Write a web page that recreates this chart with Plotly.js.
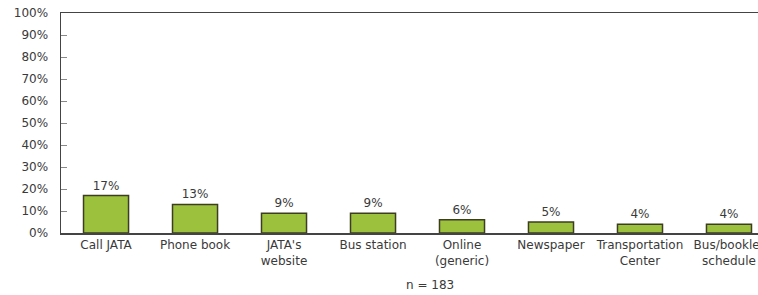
<!DOCTYPE html>
<html>
<head>
<meta charset="utf-8">
<script src="https://cdn.plot.ly/plotly-3.0.1.min.js"></script>
<style>html,body{margin:0;padding:0;background:#fff;}#chart{width:758px;height:295px;}</style>
</head>
<body>
<div id="chart"></div>
<script>
const categories = ["Call JATA", "Phone book", "JATA's<br>website", "Bus station", "Online<br>(generic)", "Newspaper", "Transportation<br>Center", "Bus/booklet<br>schedule"];
const values = [17, 13, 9, 9, 6, 5, 4, 4];
const yTickVals = [0, 10, 20, 30, 40, 50, 60, 70, 80, 90, 100];
const sampleNote = "n = 183";

const font = {family: "DejaVu Sans, Verdana, sans-serif", size: 12, color: "#3a3a3a"};
const idx = categories.map((c, i) => i);

Plotly.newPlot("chart", [{
  type: "bar",
  x: idx,
  y: values,
  width: 0.506,
  marker: {color: "#9cc23d", line: {color: "#3d3d22", width: 1.5}},
  text: values.map(v => v + "%"),
  textposition: "outside",
  textfont: font,
  cliponaxis: false,
  hoverinfo: "none"
}], {
  width: 758, height: 295,
  margin: {l: 61, r: 0, t: 13, b: 62},
  paper_bgcolor: "#fff", plot_bgcolor: "#fff",
  font: font,
  showlegend: false,
  bargap: 0,
  xaxis: {
    range: [-0.506, 7.326],
    tickmode: "array",
    tickvals: idx,
    ticktext: categories,
    ticks: "",
    ticklabeloverflow: "allow",
    ticklabelstandoff: 0,
    showline: true, linecolor: "#444", linewidth: 1.5,
    mirror: true,
    showgrid: false, zeroline: false,
    tickfont: font,
    fixedrange: true
  },
  yaxis: {
    range: [0, 100],
    tickmode: "array",
    tickvals: yTickVals,
    ticktext: yTickVals.map(v => v + "%"),
    ticks: "inside", ticklen: 6, tickcolor: "#888", tickwidth: 1,
    ticklabelstandoff: 9,
    showline: true, linecolor: "#444", linewidth: 1.5,
    showgrid: false, zeroline: false,
    tickfont: font,
    fixedrange: true
  },
  annotations: [{
    text: sampleNote, xref: "paper", yref: "paper",
    x: (430 - 61) / 697, y: -(285 - 233) / 220, yanchor: "middle", xanchor: "center",
    showarrow: false, font: font
  }]
}, {displayModeBar: false, staticPlot: true});
</script>
</body>
</html>
